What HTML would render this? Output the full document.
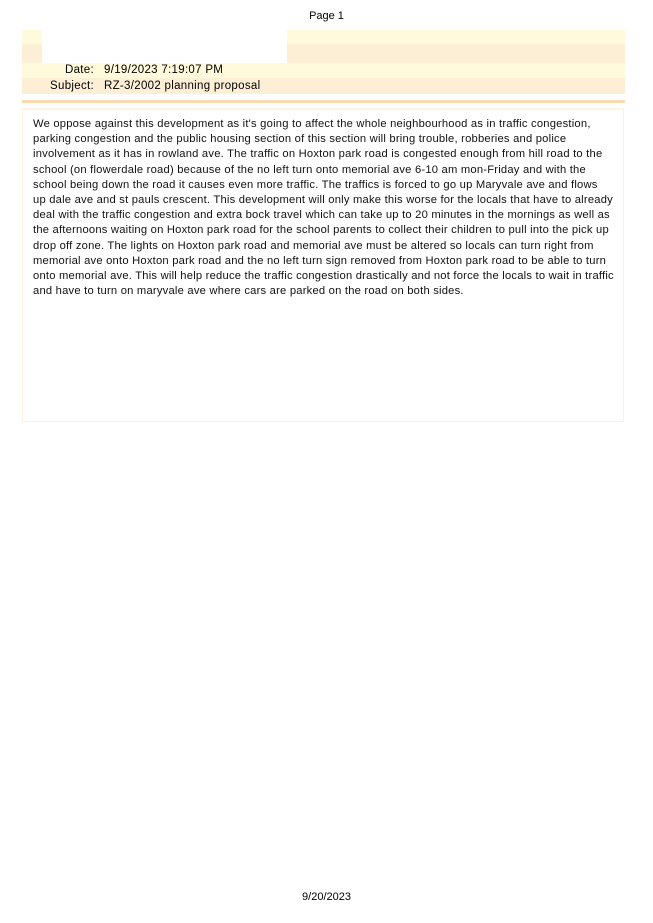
<!DOCTYPE html>
<html><head><meta charset="utf-8"><style>
body{margin:0;width:653px;height:923px;background:#fff;position:relative;font-family:"Liberation Sans",Arial,sans-serif;overflow:hidden}
.a{position:absolute}
.t{position:absolute;left:33px;font-size:11.2px;letter-spacing:0.22px;white-space:nowrap;color:#111}
</style></head><body>
<div class="a" style="left:0;width:653px;top:10px;text-align:center;font-size:11px">Page 1</div>
<div class="a" style="left:22px;width:603px;top:30px;height:14px;background:#fffadc"></div>
<div class="a" style="left:22px;width:603px;top:44px;height:19px;background:#fdefd6"></div>
<div class="a" style="left:22px;width:603px;top:63px;height:15px;background:#fffadc"></div>
<div class="a" style="left:22px;width:603px;top:78px;height:16px;background:#fdefd6"></div>
<div class="a" style="left:42px;width:245px;top:30px;height:33px;background:#fff"></div>
<div class="a" style="left:22px;width:72px;top:64px;font-size:11.5px;letter-spacing:0.3px;text-align:right">Date:</div>
<div class="a" style="left:104px;top:64px;font-size:11.5px;letter-spacing:0.3px">9/19/2023 7:19:07 PM</div>
<div class="a" style="left:22px;width:72px;top:80px;font-size:11.5px;letter-spacing:0.3px;text-align:right">Subject:</div>
<div class="a" style="left:104px;top:80px;font-size:11.5px;letter-spacing:0.3px">RZ-3/2002 planning proposal</div>
<div class="a" style="left:22px;width:603px;top:100px;height:3px;background:#fbd9b0"></div>
<div class="a" style="left:22px;width:600px;top:108px;height:311px;border:1.5px solid #fdf0dc;border-top:2px solid #fdf3e3"></div>
<div class="t" style="top:118px">We oppose against this development as it's going to affect the whole neighbourhood as in traffic congestion,</div>
<div class="t" style="top:133px">parking congestion and the public housing section of this section will bring trouble, robberies and police</div>
<div class="t" style="top:148px">involvement as it has in rowland ave. The traffic on Hoxton park road is congested enough from hill road to the</div>
<div class="t" style="top:164px">school (on flowerdale road) because of the no left turn onto memorial ave 6-10 am mon-Friday and with the</div>
<div class="t" style="top:179px">school being down the road it causes even more traffic. The traffics is forced to go up Maryvale ave and flows</div>
<div class="t" style="top:194px">up dale ave and st pauls crescent. This development will only make this worse for the locals that have to already</div>
<div class="t" style="top:209px">deal with the traffic congestion and extra bock travel which can take up to 20 minutes in the mornings as well as</div>
<div class="t" style="top:224px">the afternoons waiting on Hoxton park road for the school parents to collect their children to pull into the pick up</div>
<div class="t" style="top:240px">drop off zone. The lights on Hoxton park road and memorial ave must be altered so locals can turn right from</div>
<div class="t" style="top:255px">memorial ave onto Hoxton park road and the no left turn sign removed from Hoxton park road to be able to turn</div>
<div class="t" style="top:270px">onto memorial ave. This will help reduce the traffic congestion drastically and not force the locals to wait in traffic</div>
<div class="t" style="top:285px">and have to turn on maryvale ave where cars are parked on the road on both sides.</div>
<div class="a" style="left:0;width:653px;top:891px;text-align:center;font-size:11px">9/20/2023</div>
</body></html>
